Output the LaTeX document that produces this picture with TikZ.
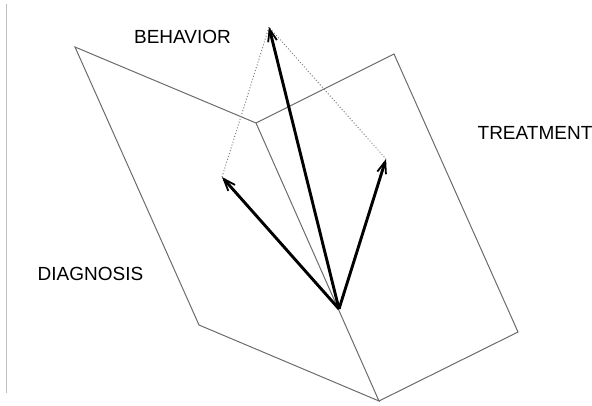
\documentclass[tikz,border=0pt]{standalone}
\usepackage{fontspec}
\setmainfont{Liberation Sans}
\usetikzlibrary{arrows.meta}
\begin{document}
\begin{tikzpicture}[x=1pt,y=-1pt,
  plane/.style={draw=black!58,line width=1pt,line join=miter},
  vec/.style={line width=2.9pt,-{Straight Barb[length=12pt,width=9pt,line width=1.8pt]}},
  guide/.style={draw=black!50,line width=1pt,dotted},
  lbl/.style={inner sep=0pt,font=\fontsize{19}{22}\selectfont,text=black}]
\useasboundingbox (0,0) rectangle (592,405);
% left margin rule
\coordinate (r1) at (6,4);
\coordinate (r2) at (6,393);
\draw[black!25,line width=1pt] (r1) -- (r2);
% planes
\coordinate (L1) at (75,47);
\coordinate (F1) at (256,123);
\coordinate (F2) at (379,401);
\coordinate (L2) at (199,325);
\coordinate (R1) at (394,54);
\coordinate (R2) at (518,332);
\draw[plane] (L1) -- (F1) -- (F2) -- (L2) -- cycle;
\draw[plane] (F1) -- (R1) -- (R2) -- (F2);
% vectors
\coordinate (O) at (339,309);
\coordinate (B) at (269,27);
\coordinate (D) at (222,177);
\coordinate (T) at (386,159);
\draw[guide] (D) -- (B) -- (T);
\draw[vec] (O) -- (B);
\draw[vec] (O) -- (D);
\draw[vec] (O) -- (T);
% labels
\node[lbl] (behavior) at (182.5,37) {BEHAVIOR};
\node[lbl] (treatment) at (535,133) {TREATMENT};
\node[lbl] (diagnosis) at (90.5,274) {DIAGNOSIS};
\end{tikzpicture}
\end{document}
